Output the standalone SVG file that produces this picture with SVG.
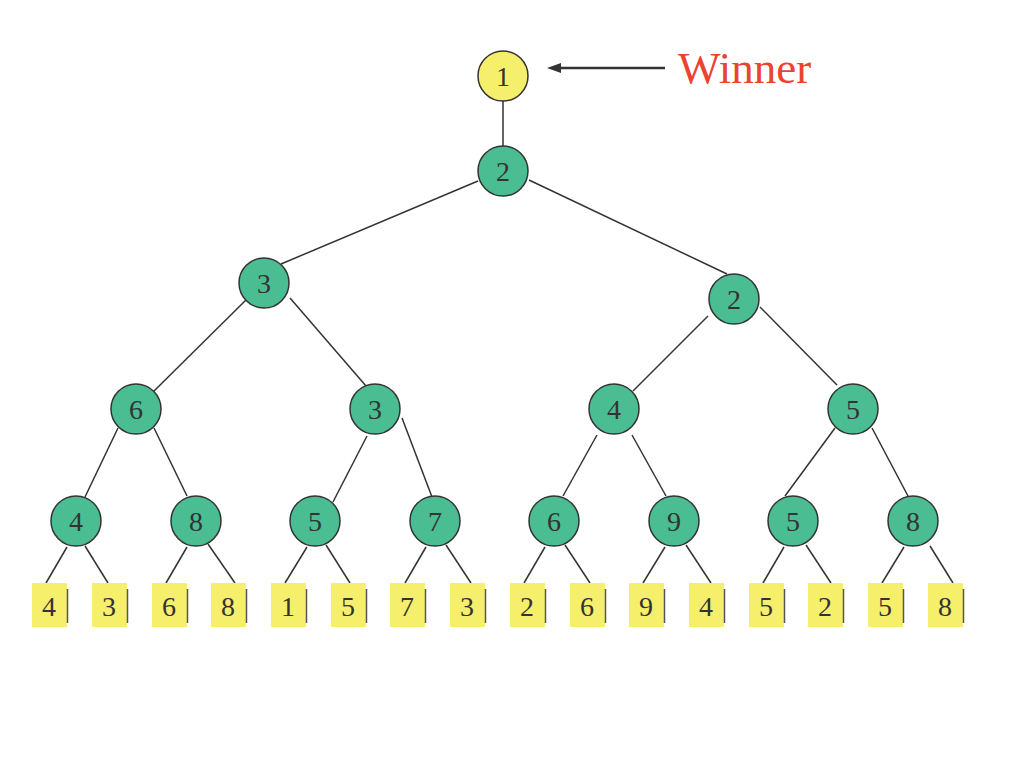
<svg xmlns="http://www.w3.org/2000/svg" width="1024" height="768" viewBox="0 0 1024 768">
<style>
.n circle{fill:#4abd93;stroke:#333;stroke-width:1.5}
.r circle{fill:#f6ef6c;stroke:#333;stroke-width:1.5}
.l rect{fill:#f6ef6c}
.l line{stroke:#555;stroke-width:1.5}
text{font-family:"Liberation Serif","Times New Roman",serif;fill:#333;text-anchor:middle}
.d{font-size:28px}
#edges line{stroke:#333;stroke-width:1.5}
</style>
<defs>
<marker id="ah" markerWidth="14" markerHeight="10" refX="0" refY="5" orient="auto" markerUnits="userSpaceOnUse">
<path d="M0,0 L14,5 L0,10 Z" fill="#333"/>
</marker>
</defs>
<rect width="1024" height="768" fill="#fff"/>
<g id="edges">
<line x1="503" y1="101" x2="503" y2="146"/>
<line x1="478" y1="181" x2="281" y2="264"/>
<line x1="529" y1="180" x2="727" y2="274"/>
<line x1="248" y1="298" x2="152" y2="393"/>
<line x1="290" y1="298" x2="366" y2="386"/>
<line x1="708" y1="316" x2="633" y2="391"/>
<line x1="760" y1="307" x2="837" y2="385"/>
<line x1="118" y1="428" x2="85" y2="497"/>
<line x1="154" y1="428" x2="187" y2="496"/>
<line x1="367" y1="436" x2="333" y2="502"/>
<line x1="402" y1="418" x2="432" y2="497"/>
<line x1="597" y1="435" x2="563" y2="496"/>
<line x1="632" y1="435" x2="666" y2="496"/>
<line x1="835" y1="428" x2="785" y2="496"/>
<line x1="872" y1="428" x2="908" y2="496"/>
<line x1="67" y1="547" x2="46" y2="583"/><line x1="85" y1="546" x2="108" y2="583"/>
<line x1="187" y1="547" x2="166" y2="583"/><line x1="208" y1="544" x2="235" y2="583"/>
<line x1="307" y1="547" x2="285" y2="583"/><line x1="326" y1="545" x2="350" y2="583"/>
<line x1="426" y1="547" x2="405" y2="583"/><line x1="446" y1="545" x2="471" y2="583"/>
<line x1="545" y1="547" x2="524" y2="583"/><line x1="565" y1="545" x2="590" y2="583"/>
<line x1="665" y1="547" x2="643" y2="583"/><line x1="686" y1="545" x2="711" y2="583"/>
<line x1="784" y1="547" x2="763" y2="583"/><line x1="806" y1="545" x2="831" y2="583"/>
<line x1="904" y1="547" x2="882" y2="583"/><line x1="930" y1="546" x2="953" y2="583"/>
<line x1="665" y1="68" x2="561" y2="68" style="stroke-width:2.5" marker-end="url(#ah)"/>
</g>
<text x="678" y="83" style="font-size:45px;fill:#ec4331;text-anchor:start">Winner</text>
<g id="root" class="r"><circle cx="503" cy="76" r="25"/><text class="d" x="503" y="86">1</text></g>
<g id="n1" class="n"><circle cx="503" cy="171" r="25"/><text class="d" x="503" y="181">2</text></g>
<g id="n2" class="n"><circle cx="264" cy="283" r="25"/><text class="d" x="264" y="293">3</text></g>
<g id="n3" class="n"><circle cx="734" cy="299" r="25"/><text class="d" x="734" y="309">2</text></g>
<g id="n4" class="n"><circle cx="136" cy="409" r="25"/><text class="d" x="136" y="419">6</text></g>
<g id="n5" class="n"><circle cx="375" cy="409" r="25"/><text class="d" x="375" y="419">3</text></g>
<g id="n6" class="n"><circle cx="614" cy="409" r="25"/><text class="d" x="614" y="419">4</text></g>
<g id="n7" class="n"><circle cx="853" cy="409" r="25"/><text class="d" x="853" y="419">5</text></g>
<g id="n8" class="n"><circle cx="76" cy="521" r="25"/><text class="d" x="76" y="531">4</text></g>
<g id="n9" class="n"><circle cx="196" cy="521" r="25"/><text class="d" x="196" y="531">8</text></g>
<g id="n10" class="n"><circle cx="315" cy="521" r="25"/><text class="d" x="315" y="531">5</text></g>
<g id="n11" class="n"><circle cx="435" cy="521" r="25"/><text class="d" x="435" y="531">7</text></g>
<g id="n12" class="n"><circle cx="554" cy="521" r="25"/><text class="d" x="554" y="531">6</text></g>
<g id="n13" class="n"><circle cx="674" cy="521" r="25"/><text class="d" x="674" y="531">9</text></g>
<g id="n14" class="n"><circle cx="793" cy="521" r="25"/><text class="d" x="793" y="531">5</text></g>
<g id="n15" class="n"><circle cx="913" cy="521" r="25"/><text class="d" x="913" y="531">8</text></g>
<g id="leaf1" class="l"><rect x="32" y="583" width="35" height="44"/><line x1="67.5" y1="589" x2="67.5" y2="623"/><text class="d" x="49" y="616">4</text></g>
<g id="leaf2" class="l"><rect x="92" y="583" width="35" height="44"/><line x1="127.5" y1="589" x2="127.5" y2="623"/><text class="d" x="109" y="616">3</text></g>
<g id="leaf3" class="l"><rect x="152" y="583" width="35" height="44"/><line x1="187.5" y1="589" x2="187.5" y2="623"/><text class="d" x="169" y="616">6</text></g>
<g id="leaf4" class="l"><rect x="211" y="583" width="35" height="44"/><line x1="246.5" y1="589" x2="246.5" y2="623"/><text class="d" x="228" y="616">8</text></g>
<g id="leaf5" class="l"><rect x="271" y="583" width="35" height="44"/><line x1="306.5" y1="589" x2="306.5" y2="623"/><text class="d" x="288" y="616">1</text></g>
<g id="leaf6" class="l"><rect x="331" y="583" width="35" height="44"/><line x1="366.5" y1="589" x2="366.5" y2="623"/><text class="d" x="348" y="616">5</text></g>
<g id="leaf7" class="l"><rect x="390" y="583" width="35" height="44"/><line x1="425.5" y1="589" x2="425.5" y2="623"/><text class="d" x="407" y="616">7</text></g>
<g id="leaf8" class="l"><rect x="450" y="583" width="35" height="44"/><line x1="485.5" y1="589" x2="485.5" y2="623"/><text class="d" x="467" y="616">3</text></g>
<g id="leaf9" class="l"><rect x="510" y="583" width="35" height="44"/><line x1="545.5" y1="589" x2="545.5" y2="623"/><text class="d" x="527" y="616">2</text></g>
<g id="leaf10" class="l"><rect x="570" y="583" width="35" height="44"/><line x1="605.5" y1="589" x2="605.5" y2="623"/><text class="d" x="587" y="616">6</text></g>
<g id="leaf11" class="l"><rect x="629" y="583" width="35" height="44"/><line x1="664.5" y1="589" x2="664.5" y2="623"/><text class="d" x="646" y="616">9</text></g>
<g id="leaf12" class="l"><rect x="689" y="583" width="35" height="44"/><line x1="724.5" y1="589" x2="724.5" y2="623"/><text class="d" x="706" y="616">4</text></g>
<g id="leaf13" class="l"><rect x="749" y="583" width="35" height="44"/><line x1="784.5" y1="589" x2="784.5" y2="623"/><text class="d" x="766" y="616">5</text></g>
<g id="leaf14" class="l"><rect x="808" y="583" width="35" height="44"/><line x1="843.5" y1="589" x2="843.5" y2="623"/><text class="d" x="825" y="616">2</text></g>
<g id="leaf15" class="l"><rect x="868" y="583" width="35" height="44"/><line x1="903.5" y1="589" x2="903.5" y2="623"/><text class="d" x="885" y="616">5</text></g>
<g id="leaf16" class="l"><rect x="928" y="583" width="35" height="44"/><line x1="963.5" y1="589" x2="963.5" y2="623"/><text class="d" x="945" y="616">8</text></g>
</svg>
